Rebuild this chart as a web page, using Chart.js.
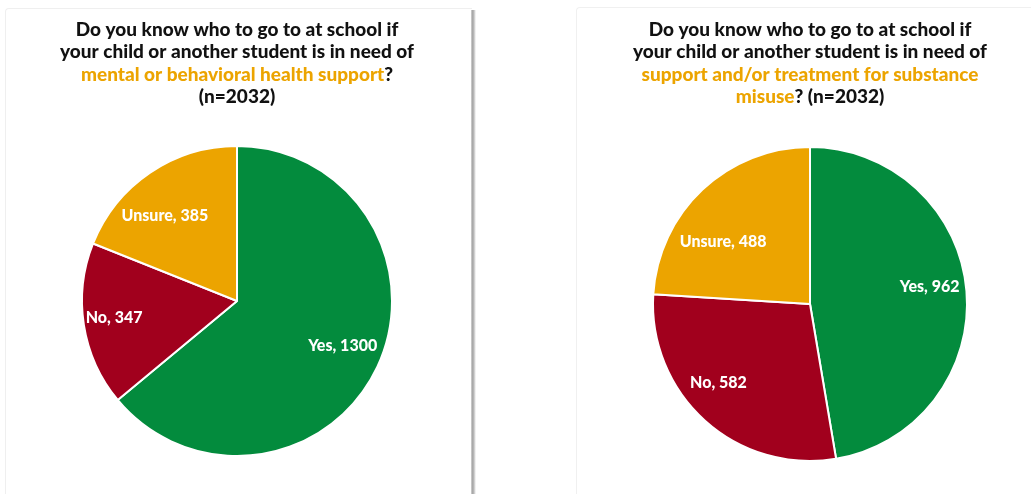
<!DOCTYPE html>
<html>
<head>
<meta charset="utf-8">
<script src="https://cdn.jsdelivr.net/npm/chart.js@4.4.1/dist/chart.umd.min.js"></script>
<style>
  html, body { margin: 0; padding: 0; background: #ffffff; }
  body { width: 1031px; height: 494px; position: relative; overflow: hidden; }
  .panel { position: absolute; background: #ffffff; box-sizing: border-box; }
  #panelA { left: 5px; top: 8px; width: 467px; height: 500px;
            border-left: 1px solid #efefef; border-top: 1px solid #efefef; border-top-left-radius: 4px; }
  #shadowA { position: absolute; left: 471px; top: 10px; width: 5px; height: 490px;
             background: linear-gradient(to right, #d4d4d4 0%, #a9a9a9 30%, #b8b8b8 55%, #e2e2e2 80%, #ffffff 100%); }
  #panelB { left: 576px; top: 7px; width: 470px; height: 500px;
            border-left: 1px solid #f0f0f0; border-top: 1px solid #f0f0f0; border-top-left-radius: 4px; }
  .wrap { position: absolute; top: 0; height: 494px; }
  #wrapA { left: 0; width: 520px; }
  #wrapB { left: 520px; width: 511px; }
</style>
</head>
<body>
<div class="panel" id="panelA"></div>
<div id="shadowA"></div>
<div class="panel" id="panelB"></div>
<div class="wrap" id="wrapA"><canvas id="chartA"></canvas></div>
<div class="wrap" id="wrapB"><canvas id="chartB"></canvas></div>
<script>
// Survey answers, both questions asked of the same 2032 respondents
const categories = ['Yes', 'No', 'Unsure'];
const mentalHealthCounts = [1300, 347, 385];
const substanceMisuseCounts = [962, 582, 488];

const sliceColors = ['#038B3D', '#A1001D', '#ECA400'];
const ink = '#111111';
const accent = '#ECA400';

// Title lines, each a list of [text, colour] runs
const titleMental = [
  [['Do you know who to go to at school if', ink]],
  [['your child or another student is in need of', ink]],
  [['mental or behavioral health support', accent], ['?', ink]],
  [['(n=2032)', ink]]
];
const titleSubstance = [
  [['Do you know who to go to at school if', ink]],
  [['your child or another student is in need of', ink]],
  [['support and/or treatment for substance', accent]],
  [['misuse', accent], ['? (n=2032)', ink]]
];

const titleFont = '900 19px Lato, "Open Sans", sans-serif';
const labelFont = '900 16px Lato, "Open Sans", sans-serif';

// Draws the multi-coloured title centred above the pie
const richTitle = {
  id: 'richTitle',
  afterDraw(chart, args, opts) {
    const ctx = chart.ctx;
    const meta = chart.getDatasetMeta(0);
    const cx = meta.data[0].x;
    ctx.save();
    ctx.font = titleFont;
    ctx.textBaseline = 'middle';
    opts.lines.forEach((runs, i) => {
      const total = runs.reduce((w, r) => w + ctx.measureText(r[0]).width, 0);
      let x = cx - total / 2;
      const y = opts.top + i * opts.lineHeight;
      runs.forEach(([text, colour]) => {
        ctx.fillStyle = colour;
        ctx.textAlign = 'left';
        ctx.fillText(text, x, y);
        x += ctx.measureText(text).width;
      });
    });
    ctx.restore();
  }
};

// Writes "Category, value" inside each slice
const sliceLabels = {
  id: 'sliceLabels',
  afterDatasetsDraw(chart, args, opts) {
    const ctx = chart.ctx;
    const meta = chart.getDatasetMeta(0);
    const values = chart.data.datasets[0].data;
    ctx.save();
    ctx.font = labelFont;
    ctx.fillStyle = '#ffffff';
    ctx.textAlign = 'center';
    ctx.textBaseline = 'middle';
    meta.data.forEach((arc, i) => {
      const share = opts.angleShare[i];
      const a = arc.startAngle + (arc.endAngle - arc.startAngle) * share;
      const r = arc.outerRadius * opts.radius[i];
      const x = arc.x + Math.cos(a) * r;
      const y = arc.y + Math.sin(a) * r;
      ctx.fillText(chart.data.labels[i] + ', ' + values[i], x, y);
    });
    ctx.restore();
  }
};

function makePie(canvasId, values, title, padding, labelPlacement) {
  return new Chart(document.getElementById(canvasId), {
    type: 'pie',
    data: {
      labels: categories,
      datasets: [{
        data: values,
        backgroundColor: sliceColors,
        borderColor: '#ffffff',
        borderWidth: 2
      }]
    },
    options: {
      responsive: true,
      maintainAspectRatio: false,
      animation: false,
      rotation: 0,
      layout: { padding: padding },
      plugins: {
        legend: { display: false },
        tooltip: { enabled: false },
        title: { display: false },
        richTitle: { lines: title, top: 30, lineHeight: 22.3 },
        sliceLabels: labelPlacement
      }
    },
    plugins: [richTitle, sliceLabels]
  });
}

makePie('chartA', mentalHealthCounts, titleMental,
  { left: 81, right: 127, top: 145, bottom: 37 },
  { angleShare: [0.49, 0.52, 0.41], radius: [0.74, 0.80, 0.72] });

makePie('chartB', substanceMisuseCounts, titleSubstance,
  { left: 132, right: 63, top: 146, bottom: 32 },
  { angleShare: [0.48, 0.57, 0.37], radius: [0.77, 0.77, 0.68] });
</script>
</body>
</html>
